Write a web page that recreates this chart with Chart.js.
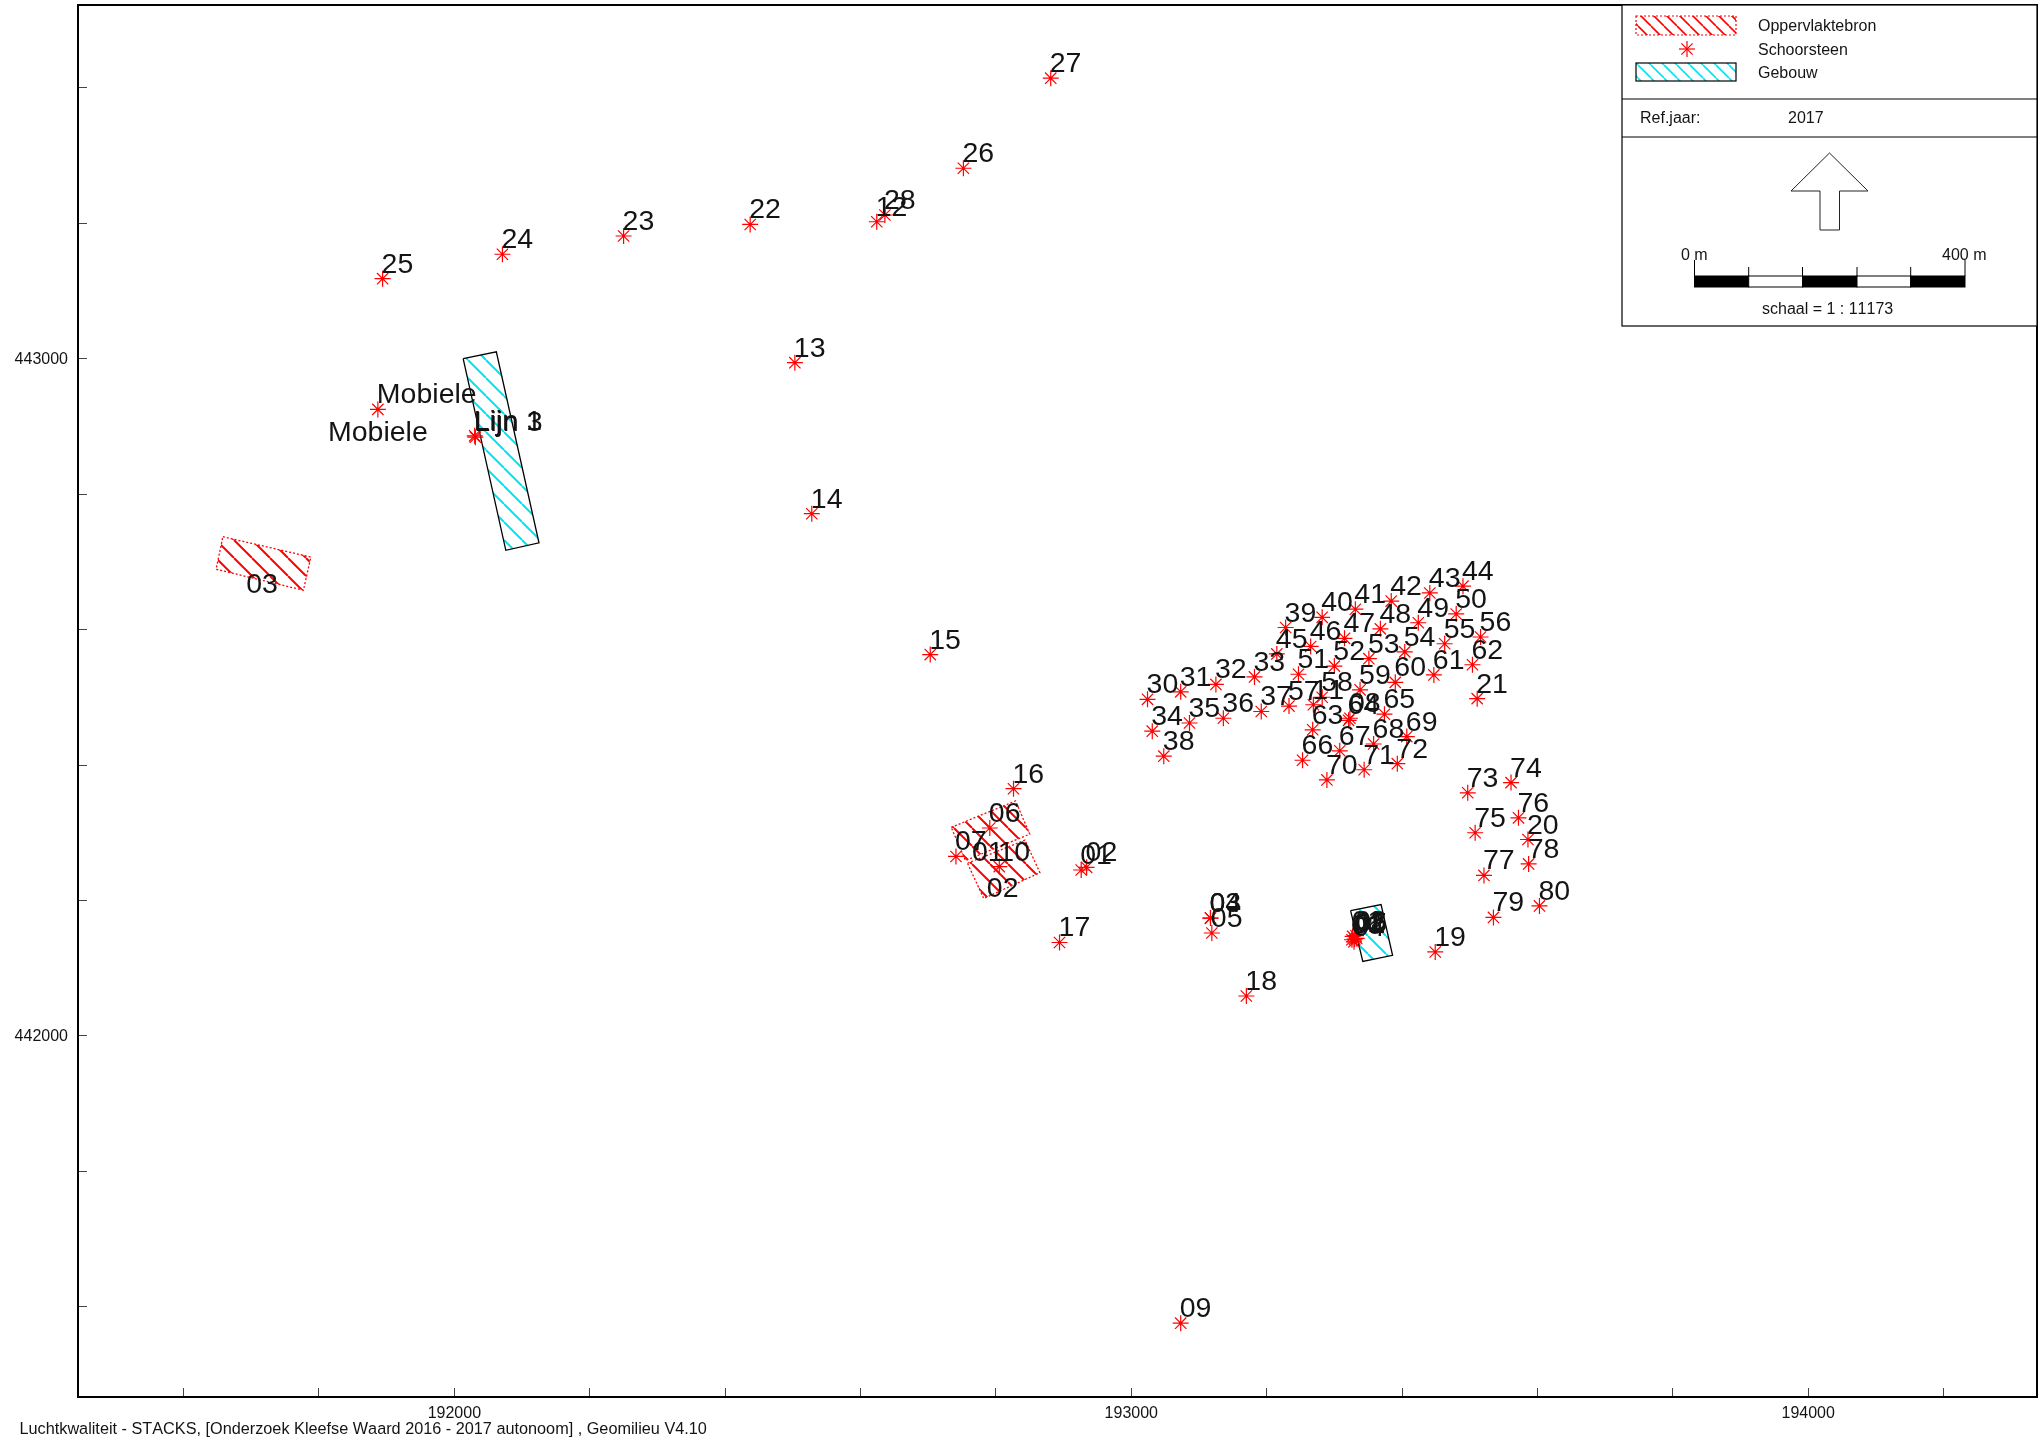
<!DOCTYPE html>
<html lang="nl">
<head>
<meta charset="utf-8">
<title>Luchtkwaliteit - STACKS</title>
<script src="https://cdn.jsdelivr.net/npm/chart.js@4"></script>
<style>
  html, body { margin: 0; padding: 0; background: #fff; }
  canvas { display: block; }
</style>
</head>
<body>
<canvas id="kaart" width="2044" height="1447"></canvas>
<script>
// =================== DATA ===================
const schoorsteenNamen = [
  '27','26','28','12','22','23','24','25','13','14','15','09',
  '16','06','07','10','01','02','03','04','05','17','18','19',
  '73','74','75','76','20','78','77','79','80',
  '30','31','32','33','34','35','36','37','38',
  '39','40','41','42','43','44','45','46','47','48','49','50',
  '51','52','53','54','55','56','57','11','58','59','60','61','62','21',
  '63','64','08','65','66','67','68','69','70','71','72',
  '01','02','03','04','05','06',
  'Mobiele','Lijn 1','Lijn 3'
];
const schoorsteenX = [
  192881,192752,192636,192624,192437,192250,192071,191894,192503,192528,192703,193073,
  192826,192791,192741,192805,192926,192934,193117,193117,193119,192894,193170,193449,
  193497,193561,193508,193572,193586,193587,193521,193535,193603,
  193024,193073,193125,193182,193031,193086,193136,193192,193048,
  193228,193282,193331,193384,193441,193490,193215,193265,193315,193368,193424,193480,
  193247,193300,193351,193404,193463,193516,193233,193269,193282,193338,193390,193447,193504,193511,
  193268,193321,193323,193374,193253,193308,193358,193407,193289,193344,193393,
  193327,193330,193332,193329,193333,193326,
  191887,192030,192031
];
const schoorsteenY = [
  443414,443281,443212,443202,443198,443181,443154,443118,442994,442771,442563,441576,
  442365,442307,442265,442250,442245,442249,442174,442174,442152,442138,442059,442124,
  442359,442374,442300,442322,442290,442254,442237,442175,442192,
  442497,442508,442519,442530,442450,442462,442469,442479,442413,
  442603,442618,442630,442642,442654,442664,442564,442575,442587,442601,442610,442623,
  442534,442546,442557,442567,442579,442589,442487,442489,442500,442511,442522,442533,442548,442498,
  442452,442466,442469,442475,442407,442421,442431,442442,442378,442393,442402,
  442147,442143,442148,442139,442144,442142,
  442925,442886,442884
];

// tweede "Mobiele" en de namen van de oppervlaktebronnen staan los van een ster
const losseNamen = ['Mobiele', '01', '02', '03'];
const losseX = [191887, 192788, 192810, 191716];
const losseY = [442879, 442259, 442205, 442654];

// oppervlaktebronnen (rood gearceerd)
const bron1X = [192734, 192829, 192850, 192755, 192734];
const bron1Y = [442308, 442347, 442298, 442259, 442308];
const bron2X = [192758, 192843, 192865, 192782, 192758];
const bron2Y = [442255, 442289, 442241, 442203, 442255];
const bron3X = [191658, 191788, 191777, 191648, 191658];
const bron3Y = [442737, 442707, 442658, 442689, 442737];

// gebouwen (cyaan gearceerd)
const gebouw1X = [192013, 192062, 192125, 192076, 192013];
const gebouw1Y = [443000, 443010, 442728, 442717, 443000];
const gebouw2X = [193324, 193369, 193386, 193342, 193324];
const gebouw2Y = [442185, 442194, 442119, 442110, 442185];

const legendaNamen = ['Oppervlaktebron', 'Schoorsteen', 'Gebouw'];
const voetregel = 'Luchtkwaliteit - STACKS, [Onderzoek Kleefse Waard 2016 - 2017 autonoom] , Geomilieu V4.10';

// =================== HULPFUNCTIES ===================
const FONT = '"Liberation Sans", Arial, sans-serif';
const TEKST = '#141414';

function arcering(kleur, stap, dikte) {
  const tegel = document.createElement('canvas');
  tegel.width = tegel.height = stap;
  const c = tegel.getContext('2d');
  c.strokeStyle = kleur;
  c.lineWidth = dikte;
  [-stap, 0, stap].forEach(d => {
    c.beginPath();
    c.moveTo(d, 0);
    c.lineTo(d + stap, stap);
    c.stroke();
  });
  return document.getElementById('kaart').getContext('2d').createPattern(tegel, 'repeat');
}

const punten = (xs, ys) => xs.map((x, i) => ({ x, y: ys[i] }));

function vlak(xs, ys, lijnKleur, arceerKleur, streep) {
  return {
    data: punten(xs, ys),
    showLine: true,
    fill: 'shape',
    tension: 0,
    pointRadius: 0,
    borderColor: lijnKleur,
    borderWidth: 1.3,
    borderDash: streep,
    backgroundColor: arcering(arceerKleur, 18, 2)
  };
}

// =================== PLUGINS ===================
const namenPlugin = {
  id: 'namen',
  afterDatasetsDraw(chart) {
    const { ctx, scales: { x, y } } = chart;
    ctx.save();
    ctx.font = `28.5px ${FONT}`;
    ctx.fontKerning = 'none';
    ctx.fillStyle = TEKST;
    ctx.textBaseline = 'alphabetic';
    ctx.textAlign = 'left';
    schoorsteenNamen.forEach((naam, i) => {
      ctx.fillText(naam, x.getPixelForValue(schoorsteenX[i]) - 1, y.getPixelForValue(schoorsteenY[i]) - 6);
    });
    ctx.textAlign = 'center';
    losseNamen.forEach((naam, i) => {
      ctx.fillText(naam, x.getPixelForValue(losseX[i]), y.getPixelForValue(losseY[i]));
    });
    ctx.restore();
  }
};

const kaderPlugin = {
  id: 'kader',
  afterDraw(chart) {
    const { ctx, chartArea: a } = chart;
    ctx.save();

    // rand rond de kaart
    ctx.strokeStyle = '#000';
    ctx.lineWidth = 2;
    ctx.strokeRect(a.left, a.top, a.right - a.left, a.bottom - a.top);

    // legendapaneel
    const L = 1622, R = a.right;
    ctx.fillStyle = '#fff';
    ctx.fillRect(L, a.top, R - L, 326 - a.top);
    ctx.lineWidth = 1.2;
    ctx.strokeRect(L, a.top, R - L, 326 - a.top);
    [99, 137].forEach(yy => {
      ctx.beginPath(); ctx.moveTo(L, yy); ctx.lineTo(R, yy); ctx.stroke();
    });

    // legenda-symbolen
    ctx.fillStyle = arcering('#ff0000', 13, 1.6);
    ctx.fillRect(1636, 16, 100, 19);
    ctx.strokeStyle = '#ff0000';
    ctx.setLineDash([2, 2]);
    ctx.strokeRect(1636, 16, 100, 19);
    ctx.setLineDash([]);
    ctx.fillStyle = arcering('#00e5f0', 13, 1.6);
    ctx.fillRect(1636, 63, 100, 18);
    ctx.strokeStyle = '#000';
    ctx.strokeRect(1636, 63, 100, 18);
    ctx.strokeStyle = '#ff0000';
    ctx.lineWidth = 1.2;
    for (let h = 0; h < 4; h++) {
      const hoek = h * Math.PI / 4, dx = 8 * Math.sin(hoek), dy = 8 * Math.cos(hoek);
      ctx.beginPath();
      ctx.moveTo(1687 - dx, 49 - dy);
      ctx.lineTo(1687 + dx, 49 + dy);
      ctx.stroke();
    }

    // noordpijl
    ctx.strokeStyle = '#222';
    ctx.lineWidth = 1;
    ctx.beginPath();
    [[1829.5, 153], [1868, 191], [1839.5, 191], [1839.5, 230], [1820, 230], [1820, 191], [1791, 191]]
      .forEach(([px, py], i) => (i ? ctx.lineTo(px, py) : ctx.moveTo(px, py)));
    ctx.closePath();
    ctx.stroke();

    // schaalbalk
    const balk = [1694.5, 1748.7, 1802.5, 1857, 1910.7, 1965];
    balk.slice(0, 5).forEach((bx, i) => {
      ctx.fillStyle = i % 2 ? '#fff' : '#000';
      ctx.fillRect(bx, 276, balk[i + 1] - bx, 11);
      ctx.strokeStyle = '#000';
      ctx.strokeRect(bx, 276, balk[i + 1] - bx, 11);
    });
    balk.forEach((bx, i) => {
      ctx.beginPath();
      ctx.moveTo(bx, i === 0 || i === 5 ? 260 : 267);
      ctx.lineTo(bx, 276);
      ctx.stroke();
    });

    // teksten in het paneel en de voetregel
    ctx.font = `16px ${FONT}`;
    ctx.fontKerning = 'none';
    ctx.fillStyle = TEKST;
    ctx.textBaseline = 'middle';
    ctx.textAlign = 'left';
    ctx.fillText(legendaNamen[0], 1758, 27);
    ctx.fillText(legendaNamen[1], 1758, 51);
    ctx.fillText(legendaNamen[2], 1758, 74);
    ctx.fillText('Ref.jaar:', 1640, 119);
    ctx.fillText('2017', 1788, 119);
    ctx.fillText('0 m', 1681, 256);
    ctx.fillText('400 m', 1942, 256);
    ctx.fillText('schaal = 1 : 11173', 1762, 310);
    ctx.font = `16.25px ${FONT}`;
    ctx.fillText(voetregel, 19.5, 1430);
    ctx.restore();
  }
};

// =================== GRAFIEK ===================
function asOpties(min, max, vulling) {
  return {
    type: 'linear',
    min,
    max,
    afterFit(s) {
      vulling(s);
      // geen extra marge voor de aslabels, de kaart loopt tot de rand
      s.getPadding = () => ({ left: 0, top: 0, right: 0, bottom: 0 });
    },
    border: { color: '#000', width: 2 },
    grid: { drawOnChartArea: false, drawTicks: true, tickLength: -9, color: '#444', lineWidth: 1 },
    ticks: {
      stepSize: 200,
      includeBounds: false,
      autoSkip: false,
      maxRotation: 0,
      minRotation: 0,
      color: TEKST,
      font: { family: FONT, size: 16 },
      callback: v => (v % 1000 === 0 ? String(v) : '')
    }
  };
}

const assen = {
  x: asOpties(191444, 194338, s => { s.height = 50; }),
  y: asOpties(441467, 443522, s => { s.width = 78; })
};
assen.x.ticks.padding = 16;
assen.y.ticks.padding = 19;
assen.y.ticks.labelOffset = 1;

new Chart(document.getElementById('kaart'), {
  type: 'scatter',
  data: {
    datasets: [
      {
        data: punten(schoorsteenX, schoorsteenY),
        pointStyle: 'star',
        pointRadius: 8,
        pointBorderColor: '#ff0000',
        pointBackgroundColor: '#ff0000',
        pointBorderWidth: 1.2
      },
      vlak(bron1X, bron1Y, '#ff0000', '#ff0000', [2, 2]),
      vlak(bron2X, bron2Y, '#ff0000', '#ff0000', [2, 2]),
      vlak(bron3X, bron3Y, '#ff0000', '#ff0000', [2, 2]),
      vlak(gebouw1X, gebouw1Y, '#000', '#00e5f0', []),
      vlak(gebouw2X, gebouw2Y, '#000', '#00e5f0', [])
    ]
  },
  options: {
    responsive: false,
    devicePixelRatio: 1,
    animation: false,
    layout: { autoPadding: false, padding: { top: 5, right: 7, left: 0, bottom: 0 } },
    plugins: { legend: { display: false }, tooltip: { enabled: false } },
    scales: assen
  },
  plugins: [namenPlugin, kaderPlugin]
});
</script>
</body>
</html>
